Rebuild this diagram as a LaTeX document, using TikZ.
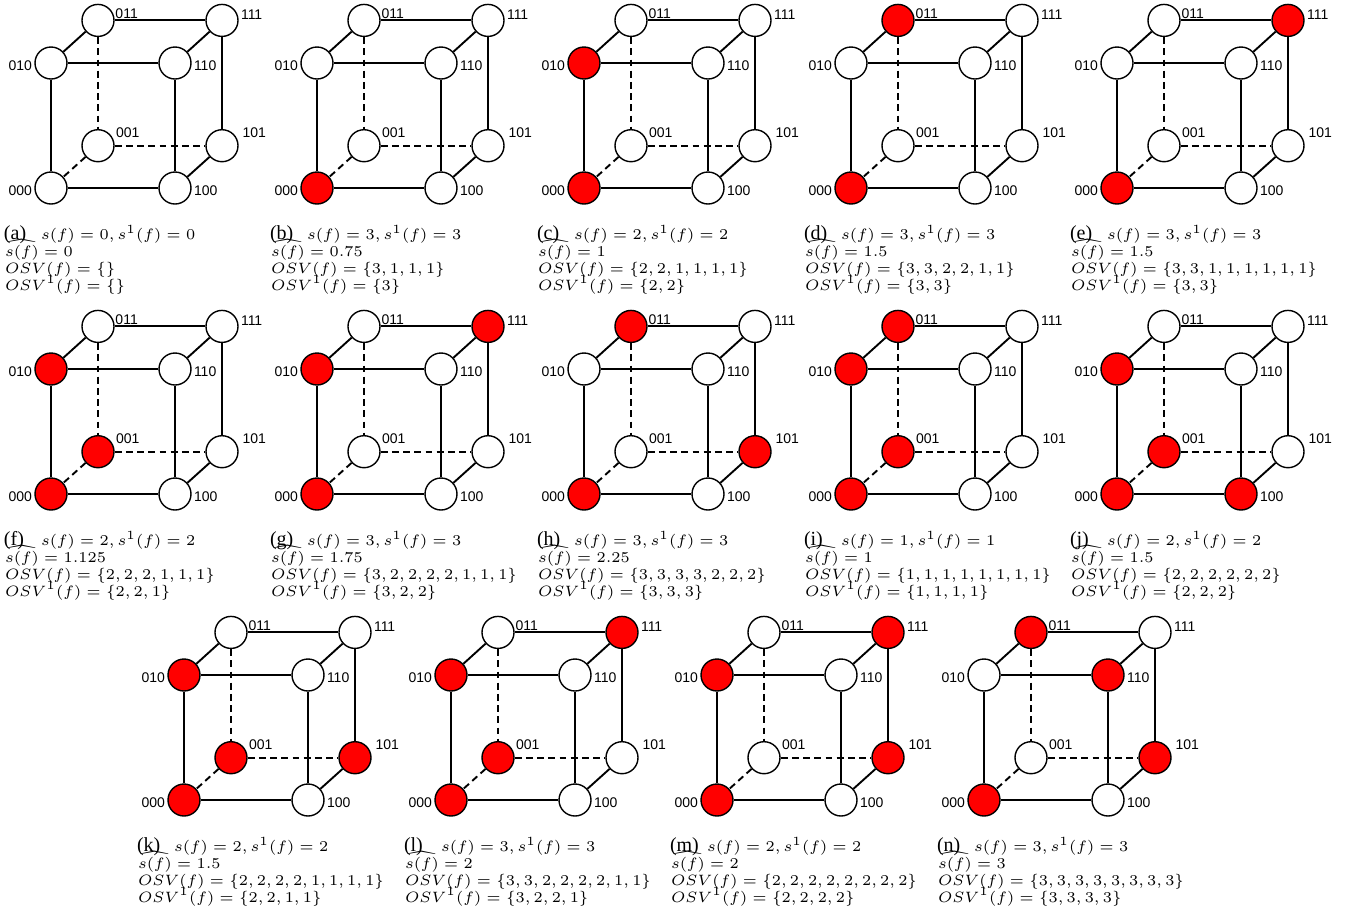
\documentclass[tikz,border=0pt]{standalone}
\usepackage[no-math]{fontspec}
\usepackage{exscale}
\newfontfamily\labfont{Liberation Sans}
\newfontfamily\tagfont{Liberation Serif}
\DeclareMathSizes{6}{6}{5}{5}
\definecolor{vred}{RGB}{255,0,0}
\tikzset{
  vtx/.style={circle, draw=black, line width=0.56pt, fill=white, minimum size=12.8pt, inner sep=0pt},
  lit/.style={r#1/.style={fill=vred}},
  cedge/.style={line width=0.76pt},
  chidden/.style={line width=0.76pt, dash pattern=on 2.72pt off 1.76pt},
  vlab/.style={inner sep=0pt, font=\labfont\fontsize{5.6}{6.5}\selectfont},
  ctext/.style={inner sep=0pt, anchor=base west, font=\fontsize{6}{7}\selectfont},
  ctag/.style={inner sep=0pt, anchor=base west, font=\tagfont\fontsize{8}{9}\selectfont},
}
\newcommand\drawcube[4]{%
\begin{scope}[shift={(#2,#3)}, r000/.style={}, r001/.style={}, r010/.style={}, r011/.style={}, r100/.style={}, r101/.style={}, r110/.style={}, r111/.style={}, #4]
 \node[vtx,r000] (#1-000) at (0,0) {};
 \node[vtx,r100] (#1-100) at (124,0) {};
 \node[vtx,r010] (#1-010) at (0,-125) {};
 \node[vtx,r110] (#1-110) at (124,-125) {};
 \node[vtx,r001] (#1-001) at (47,-42.3) {};
 \node[vtx,r101] (#1-101) at (171,-42.3) {};
 \node[vtx,r011] (#1-011) at (47,-167.6) {};
 \node[vtx,r111] (#1-111) at (171,-167.6) {};
 \draw[cedge] (#1-000) -- (#1-100);
 \draw[cedge] (#1-100) -- (#1-110);
 \draw[cedge] (#1-110) -- (#1-010);
 \draw[cedge] (#1-010) -- (#1-000);
 \draw[cedge] (#1-010) -- (#1-011);
 \draw[cedge] (#1-011) -- (#1-111);
 \draw[cedge] (#1-111) -- (#1-110);
 \draw[cedge] (#1-111) -- (#1-101);
 \draw[cedge] (#1-101) -- (#1-100);
 \draw[chidden] (#1-011) -- (#1-001);
 \draw[chidden] (#1-001) -- (#1-101);
 \draw[chidden] (#1-001) -- (#1-000);
 \node[vlab, anchor=west] (#1-t011) at (64,-174) {011};
 \node[vlab, anchor=west] (#1-t111) at (189.5,-173.5) {111};
 \node[vlab, anchor=west] (#1-t110) at (142.5,-122.5) {110};
 \node[vlab, anchor=west] (#1-t100) at (142.5,2.5) {100};
 \node[vlab, anchor=west] (#1-t001) at (64.5,-55.8) {001};
 \node[vlab, anchor=west] (#1-t101) at (191,-55.3) {101};
 \node[vlab, anchor=east] (#1-t010) at (-18.5,-122.7) {010};
 \node[vlab, anchor=east] (#1-t000) at (-18.5,2.4) {000};
\end{scope}}
\newcommand\cubecap[7]{%
\begin{scope}[shift={(#1-000.center)}]
 \node[ctag] (#1-tag) at (-47.5,51.5) {(#2)};
 \node[ctext] (#1-c1) at (-10.5,51.5) {$s(f) = #3, s^1(f) = #4$};
 \node[ctext] (#1-c2) at (-46.5,68.7) {$\widehat{s(f)} = #5$};
 \node[ctext] (#1-c3) at (-46.5,85.2) {$OSV(f) = \{#6\}$};
 \node[ctext] (#1-c4) at (-46.5,102.2) {$OSV^1(f) = \{#7\}$};
\end{scope}}
\begin{document}
\begin{tikzpicture}[x=0.4pt, y=-0.4pt]
\fill[white] (0,0) rectangle (1349,916);
\drawcube{a}{51}{188}{}
\drawcube{b}{317}{188}{lit=000}
\drawcube{c}{584}{188}{lit=000, lit=010}
\drawcube{d}{851}{188}{lit=000, lit=011}
\drawcube{e}{1117}{188}{lit=000, lit=111}
\drawcube{f}{51}{494}{lit=000, lit=010, lit=001}
\drawcube{g}{317}{494}{lit=000, lit=010, lit=111}
\drawcube{h}{584}{494}{lit=000, lit=011, lit=101}
\drawcube{i}{851}{494}{lit=000, lit=010, lit=011, lit=001}
\drawcube{j}{1117}{494}{lit=000, lit=010, lit=001, lit=100}
\drawcube{k}{184}{800}{lit=000, lit=010, lit=001, lit=101}
\drawcube{l}{451}{800}{lit=000, lit=010, lit=001, lit=111}
\drawcube{m}{717}{800}{lit=000, lit=010, lit=101, lit=111}
\drawcube{n}{984}{800}{lit=000, lit=011, lit=110, lit=101}
\cubecap{a}{a}{0}{0}{0}{}{}
\cubecap{b}{b}{3}{3}{0.75}{3,1,1,1}{3}
\cubecap{c}{c}{2}{2}{1}{2,2,1,1,1,1}{2,2}
\cubecap{d}{d}{3}{3}{1.5}{3,3,2,2,1,1}{3,3}
\cubecap{e}{e}{3}{3}{1.5}{3,3,1,1,1,1,1,1}{3,3}
\cubecap{f}{f}{2}{2}{1.125}{2,2,2,1,1,1}{2,2,1}
\cubecap{g}{g}{3}{3}{1.75}{3,2,2,2,2,1,1,1}{3,2,2}
\cubecap{h}{h}{3}{3}{2.25}{3,3,3,3,2,2,2}{3,3,3}
\cubecap{i}{i}{1}{1}{1}{1,1,1,1,1,1,1,1}{1,1,1,1}
\cubecap{j}{j}{2}{2}{1.5}{2,2,2,2,2,2}{2,2,2}
\cubecap{k}{k}{2}{2}{1.5}{2,2,2,2,1,1,1,1}{2,2,1,1}
\cubecap{l}{l}{3}{3}{2}{3,3,2,2,2,2,1,1}{3,2,2,1}
\cubecap{m}{m}{2}{2}{2}{2,2,2,2,2,2,2,2}{2,2,2,2}
\cubecap{n}{n}{3}{3}{3}{3,3,3,3,3,3,3,3}{3,3,3,3}
\end{tikzpicture}
\end{document}
